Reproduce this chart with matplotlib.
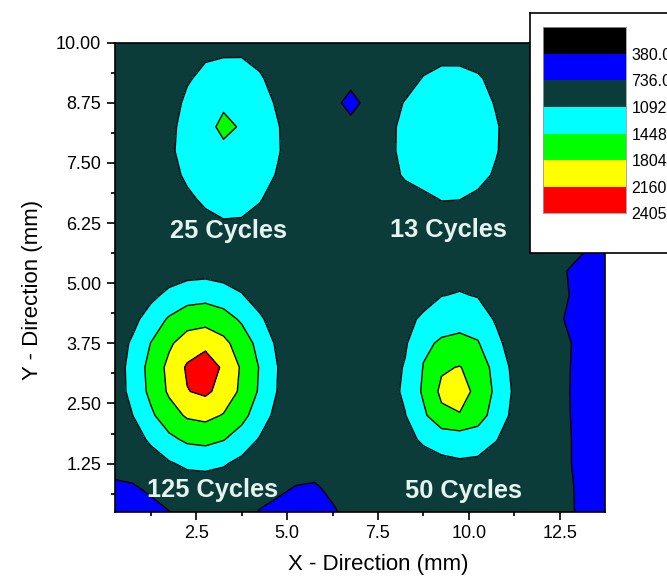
import numpy as np
import matplotlib.pyplot as plt

plt.rcParams['font.family'] = ['Liberation Sans', 'DejaVu Sans']

# scan positions (mm)
x_mm = np.arange(0.25, 13.76, 0.5)
y_mm = np.arange(0.25, 10.26, 0.5)

# measured intensity, first line is the top row (y = 10.25 mm)
intensity_map = """
900 900 900 900 900 900 900 900 900 900 900 900 900 900 900 900 900 900 900 900 900 900 900 900 900 900 750 650
900 900 900 900 900 1040 1070 1070 950 900 900 900 900 900 900 900 900 900 1000 980 900 900 900 900 900 900 750 650
900 900 900 900 1050 1200 1250 1260 1150 900 900 900 900 900 900 900 900 1120 1200 1220 1150 950 900 900 900 900 750 650
900 900 900 900 1180 1320 1400 1350 1250 1040 900 900 900 560 900 900 1120 1250 1300 1310 1260 1060 900 900 900 900 750 650
900 900 900 980 1250 1350 1520 1420 1300 1110 900 900 900 900 900 980 1200 1290 1330 1340 1300 1130 900 900 900 900 750 650
900 900 900 1000 1280 1350 1380 1370 1300 1120 900 900 900 900 900 990 1200 1300 1340 1330 1290 1120 900 900 900 900 750 650
900 900 900 920 1180 1300 1330 1320 1250 1060 900 900 900 900 900 920 1150 1260 1300 1290 1220 1040 900 900 900 900 750 650
900 900 900 900 1000 1180 1250 1230 1120 920 900 900 900 900 900 900 900 1000 1110 1100 1010 900 900 900 900 900 750 650
900 900 900 900 900 960 1060 1050 950 900 900 900 900 900 900 900 900 900 900 900 900 900 900 900 900 900 750 650
900 900 900 900 900 900 900 900 900 900 900 900 900 900 900 900 900 900 900 900 900 900 900 900 900 880 740 650
900 900 900 900 959 979 932 900 900 900 900 900 900 900 900 900 900 900 900 950 900 900 900 900 880 720 700 620
900 900 1005 1182 1300 1329 1261 1115 924 900 900 900 900 900 900 900 900 900 1080 1120 1070 900 900 900 900 740 600 560
900 993 1256 1488 1645 1686 1593 1401 1151 900 900 900 900 900 900 900 950 1180 1350 1380 1300 1050 900 900 860 690 600 560
900 1146 1457 1747 1976 2043 1895 1635 1334 1023 900 900 900 900 900 900 1050 1400 1480 1500 1470 1200 900 900 900 760 600 560
903 1223 1560 1895 2204 2405 2094 1761 1425 1088 900 900 900 900 900 940 1120 1460 1760 1820 1650 1330 1000 900 900 750 600 560
900 1204 1533 1855 2147 2226 2038 1729 1402 1071 900 900 900 900 900 960 1150 1500 1880 1960 1700 1380 1040 900 900 745 600 560
900 1090 1387 1652 1848 1901 1781 1552 1270 978 900 900 900 900 900 920 1080 1380 1720 1780 1600 1300 1000 900 900 750 600 560
900 919 1158 1368 1508 1542 1462 1291 1062 900 900 900 900 900 900 900 960 1160 1220 1260 1260 1110 900 900 900 760 600 560
900 900 900 1056 1159 1185 1125 1000 900 900 900 900 900 900 900 900 900 900 1020 1050 1020 900 900 900 900 760 600 560
650 700 800 880 900 900 900 900 860 800 720 690 820 900 900 900 900 900 900 900 900 900 900 900 900 790 600 560
550 580 620 730 820 900 900 850 720 640 600 600 690 850 900 900 900 900 900 900 900 900 900 900 900 800 600 560
"""
intensity = np.flipud(np.array(
    [row.split() for row in intensity_map.strip().splitlines()], dtype=float))

levels = [24, 380, 736, 1092, 1448, 1804, 2160, 2405]
level_colors = ['#000000', '#0000ff', '#0c3c3a', '#00ffff',
                '#00ff00', '#ffff00', '#ff0000']

spot_names = ['25 Cycles', '13 Cycles', '125 Cycles', '50 Cycles']

fig = plt.figure(figsize=(6.67, 5.87), dpi=100)
ax = fig.add_axes([0.1717, 0.1283, 0.7354, 0.7990])

ax.contourf(x_mm, y_mm, intensity, levels=levels, colors=level_colors)
ax.contour(x_mm, y_mm, intensity, levels=levels[1:-1], colors='black',
           linewidths=1.0)

ax.set_xlim(0.25, 13.75)
ax.set_ylim(0.25, 10.0)
ax.set_xticks([2.5, 5.0, 7.5, 10.0, 12.5])
ax.set_xticks([1.25, 3.75, 6.25, 8.75, 11.25], minor=True)
ax.set_yticks(np.arange(1.25, 10.01, 1.25))
ax.set_yticks(np.arange(0.625, 10, 1.25), minor=True)
ax.xaxis.set_major_formatter('{x:.1f}')
ax.yaxis.set_major_formatter('{x:.2f}')
ax.tick_params(which='both', direction='out', top=False, right=False,
               labelsize=13, width=1.2)
ax.tick_params(which='major', length=5.5, pad=4)
ax.tick_params(which='minor', length=3)
for spine in ax.spines.values():
    spine.set_linewidth(1.2)

ax.set_xlabel('X - Direction (mm)', fontsize=16)
ax.set_ylabel('Y - Direction (mm)', fontsize=16)
ax.xaxis.set_label_coords(0.537, -0.09)
ax.yaxis.set_label_coords(-0.145, 0.473)

# spot names, placed under / over each spot
name_pos = [(3.40, 5.94), (9.43, 5.95), (2.96, 0.56), (9.86, 0.53)]
for name, (tx, ty) in zip(spot_names, name_pos):
    ax.text(tx, ty, name, ha='center', va='baseline', fontsize=18.3,
            fontweight='bold', color='#e6f4f1')

# level key in a white box at the top right
box = fig.add_axes([530 / 667, 1 - 253 / 587, 0.3, (253 - 12.7) / 587])
box.set_xticks([])
box.set_yticks([])
for spine in box.spines.values():
    spine.set_linewidth(1.2)

key = fig.add_axes([543.3 / 667, 1 - 213.3 / 587,
                    (626 - 543.3) / 667, (213.3 - 27.3) / 587])
key.barh(np.arange(len(level_colors)), 1, height=1, left=0, align='edge',
         color=level_colors)
key.set_xlim(0, 1)
key.set_ylim(len(level_colors), 0)
key.set_xticks([])
key.set_yticks(np.arange(1, len(levels)))
key.set_yticklabels([f'{v:.1f}' for v in levels[1:]])
key.yaxis.tick_right()
key.tick_params(axis='y', length=0, pad=4, labelsize=11.5)
for spine in key.spines.values():
    spine.set_linewidth(0.6)
    spine.set_color('#999999')

fig.savefig('out.png', dpi=100)
